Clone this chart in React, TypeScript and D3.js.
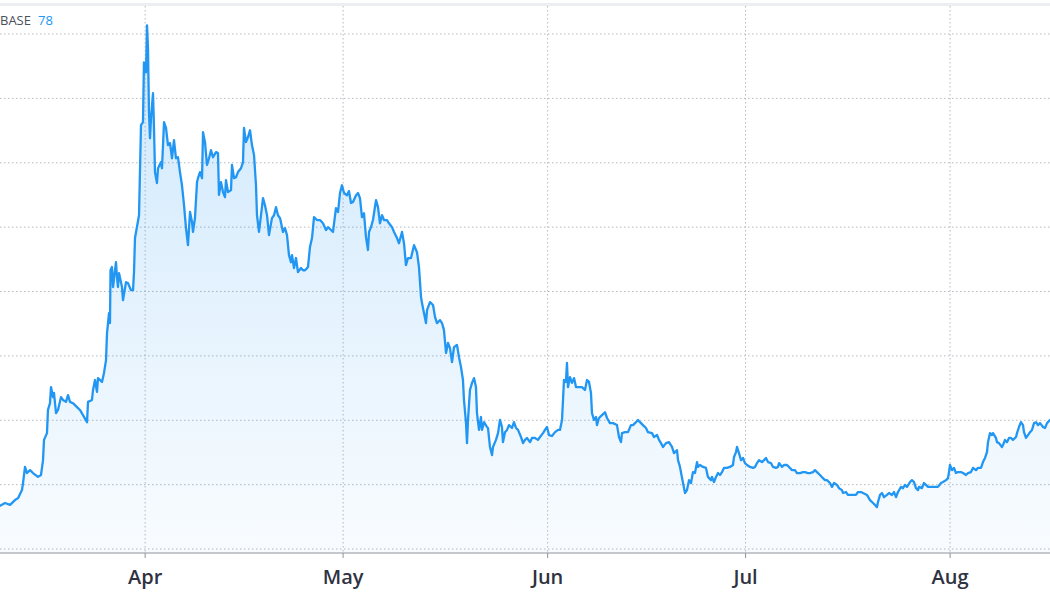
import React from "react";
import * as d3 from "d3";

// ---- data (day-of-year 2021, price) ----
const YEAR = 2021;
const series: [number, number][] = [
[69.00,53.4],[69.76,54.3],[70.52,53.7],[71.27,55.2],[71.73,55.8],[72.33,58.3],[72.49,60.5],[72.79,65.5],[73.09,63.6],[73.55,64.5],[74.00,63.6],[74.76,62.4],[75.21,63.0],[75.52,67.6],[75.67,73.9],[76.12,76.0],[76.27,83.2],[76.58,85.3],[76.73,90.3],[77.03,87.2],[77.18,88.5],[77.49,82.2],[77.79,83.2],[78.25,87.2],[78.55,86.3],[79.00,85.7],[79.31,87.8],[79.61,85.7],[80.06,85.3],[80.67,84.1],[81.12,83.2],[81.58,81.6],[82.19,79.4],[82.34,85.7],[82.94,86.3],[83.10,89.4],[83.40,92.5],[83.70,88.8],[83.85,93.1],[84.46,91.9],[84.76,94.7],[85.07,98.7],[85.22,107.1],[85.52,113.3],[85.67,110.2],[85.75,126.6],[85.97,127.6],[86.13,121.4],[86.58,129.1],[86.73,124.5],[86.88,121.4],[87.04,125.7],[87.49,121.4],[87.64,117.3],[88.10,122.9],[88.40,122.6],[88.85,120.4],[89.16,120.4],[89.31,126.0],[89.46,136.6],[90.07,143.7],[90.37,171.7],[90.67,172.6],[90.82,191.2],[91.13,188.1],[91.28,202.7],[91.43,195.6],[91.58,175.7],[91.73,167.6],[91.89,173.9],[92.19,181.6],[92.34,170.8],[92.49,157.1],[92.79,153.7],[92.95,158.3],[93.40,160.2],[93.55,158.3],[93.86,172.6],[94.16,170.8],[94.46,165.5],[94.77,166.1],[95.07,161.4],[95.37,167.0],[95.67,161.4],[95.98,161.7],[96.28,157.1],[96.58,153.0],[96.89,146.8],[97.19,139.7],[97.49,134.4],[97.80,144.7],[98.10,141.6],[98.25,138.5],[98.55,142.8],[98.86,154.0],[99.01,155.2],[99.31,157.1],[99.62,155.2],[99.77,169.5],[100.07,166.4],[100.37,159.3],[100.68,161.4],[100.98,163.9],[101.28,161.7],[101.74,163.3],[102.04,163.0],[102.19,150.0],[102.49,154.0],[102.80,150.9],[103.10,149.3],[103.25,154.6],[103.56,150.9],[104.01,151.5],[104.16,159.3],[104.47,155.2],[104.77,155.5],[105.07,157.1],[105.53,158.3],[105.83,160.2],[105.98,170.8],[106.28,166.4],[106.59,168.0],[106.89,170.1],[107.19,165.5],[107.50,162.4],[107.80,153.0],[107.95,143.7],[108.25,138.5],[108.56,143.7],[108.86,149.0],[109.16,146.8],[109.47,143.7],[109.77,137.5],[110.22,142.8],[110.53,143.7],[110.83,146.2],[111.13,143.7],[111.44,142.8],[111.89,138.5],[112.19,139.7],[112.50,137.5],[112.80,131.3],[113.10,129.1],[113.26,131.3],[113.56,127.3],[113.86,130.4],[114.16,126.0],[114.62,127.3],[114.92,126.6],[115.23,126.6],[115.68,127.6],[115.98,133.8],[116.29,136.6],[116.59,143.1],[117.04,142.2],[117.50,142.2],[117.95,141.2],[118.41,139.1],[118.71,140.0],[119.17,139.1],[119.47,138.5],[119.92,145.9],[120.23,144.7],[120.53,150.6],[120.83,153.0],[121.14,150.6],[121.59,149.9],[121.89,151.2],[122.20,147.5],[122.50,147.8],[122.96,149.9],[123.26,150.6],[123.56,149.0],[123.86,143.1],[124.17,144.3],[124.47,136.9],[124.77,132.9],[124.93,138.5],[125.23,140.0],[125.53,142.2],[125.99,148.4],[126.29,146.2],[126.59,141.2],[126.90,143.7],[127.20,142.2],[127.65,142.2],[127.96,141.2],[128.41,140.0],[128.72,138.5],[129.17,136.6],[129.47,135.0],[129.93,138.5],[130.23,135.0],[130.53,128.2],[130.84,130.4],[131.29,130.4],[131.75,134.4],[132.20,132.2],[132.50,127.6],[132.81,118.3],[132.96,116.4],[133.26,113.3],[133.56,110.2],[133.72,114.2],[134.17,116.7],[134.63,115.8],[134.93,112.1],[135.23,110.2],[135.69,111.1],[135.99,110.2],[136.29,108.0],[136.60,100.9],[136.90,104.0],[137.20,102.4],[137.51,98.1],[137.81,102.7],[138.26,103.4],[138.57,99.6],[138.87,96.5],[139.17,92.5],[139.32,86.3],[139.63,79.1],[139.78,72.9],[139.93,80.1],[140.23,89.4],[140.54,91.6],[140.84,93.1],[141.14,90.3],[141.29,82.2],[141.60,77.0],[141.90,81.0],[142.05,77.0],[142.36,79.4],[142.81,77.9],[142.96,77.6],[143.26,71.7],[143.57,69.2],[143.72,71.7],[144.17,73.9],[144.48,76.0],[144.78,80.1],[145.08,77.9],[145.23,73.2],[145.54,76.3],[145.84,77.0],[146.14,78.5],[146.60,77.6],[146.90,79.4],[147.21,77.6],[147.51,77.0],[147.96,74.8],[148.27,72.9],[148.57,73.9],[148.87,74.5],[149.33,73.2],[149.63,74.5],[150.08,74.5],[150.54,73.9],[150.84,74.8],[151.30,76.0],[151.60,77.0],[151.90,77.9],[152.21,75.4],[152.66,75.1],[153.12,76.3],[153.57,77.0],[153.87,77.0],[154.18,80.1],[154.33,86.3],[154.48,92.5],[154.78,91.9],[154.93,97.8],[155.09,90.3],[155.39,93.4],[155.69,91.6],[156.00,93.1],[156.30,90.3],[156.60,90.3],[157.21,90.3],[157.66,89.4],[157.97,92.5],[158.27,91.9],[158.57,88.5],[158.72,82.2],[159.03,80.1],[159.33,81.0],[159.48,78.5],[159.78,80.7],[160.24,81.6],[160.69,82.5],[161.00,80.7],[161.45,79.1],[161.91,79.1],[162.51,78.5],[162.82,74.8],[163.12,73.2],[163.27,76.0],[163.73,76.3],[164.18,76.3],[164.63,78.5],[164.94,78.5],[165.39,79.4],[165.70,80.1],[166.00,79.4],[166.45,78.5],[166.91,77.6],[167.21,76.3],[167.82,76.0],[168.12,74.8],[168.58,75.4],[168.88,73.9],[169.18,72.9],[169.48,71.7],[169.94,72.9],[170.39,73.2],[170.85,71.7],[171.15,69.8],[171.61,70.7],[171.76,67.6],[172.06,65.5],[172.37,62.1],[172.82,57.4],[173.12,58.3],[173.43,61.4],[173.73,60.5],[174.03,63.9],[174.33,63.6],[174.64,67.0],[174.79,65.5],[175.09,66.1],[175.55,65.5],[176.00,65.2],[176.30,62.4],[176.76,61.4],[176.91,62.4],[177.21,60.8],[177.52,62.4],[177.82,63.6],[178.12,63.0],[178.43,63.9],[178.73,65.2],[179.18,65.2],[179.64,65.5],[180.09,66.1],[180.25,68.6],[180.55,70.1],[180.70,71.7],[181.00,69.8],[181.31,67.6],[181.61,68.3],[181.91,66.7],[182.22,66.1],[182.67,65.5],[183.12,65.2],[183.43,65.5],[183.73,66.7],[184.03,67.6],[184.49,67.0],[184.79,67.6],[185.09,68.3],[185.40,67.0],[185.85,66.7],[186.16,65.5],[186.61,65.2],[186.91,65.5],[187.07,66.7],[187.52,65.5],[187.82,66.1],[188.28,66.1],[188.58,65.5],[189.04,64.5],[189.49,64.5],[189.79,63.6],[190.25,63.6],[190.70,63.9],[191.01,63.9],[191.46,63.6],[191.76,63.6],[192.22,63.9],[192.52,64.5],[192.82,63.9],[193.28,63.0],[193.73,62.0],[194.04,61.4],[194.34,61.4],[194.79,60.5],[195.10,59.3],[195.40,60.5],[195.86,59.9],[196.16,58.9],[196.61,58.3],[196.76,57.4],[197.22,57.7],[197.52,56.8],[197.98,56.8],[198.28,56.8],[198.73,56.8],[199.04,57.7],[199.49,57.7],[199.80,57.4],[200.40,56.8],[200.86,55.2],[201.31,54.3],[201.62,53.7],[201.92,53.0],[202.07,54.6],[202.38,56.8],[202.68,57.4],[202.98,56.1],[203.43,56.8],[203.74,57.4],[204.19,56.8],[204.49,57.7],[204.80,56.1],[205.10,57.7],[205.56,59.3],[205.86,58.9],[206.16,59.9],[206.47,59.3],[206.92,60.8],[207.22,61.4],[207.53,60.8],[207.83,58.9],[208.13,58.3],[208.28,59.3],[208.74,58.9],[209.04,60.5],[209.34,59.9],[209.65,59.3],[210.10,59.3],[210.41,59.3],[210.86,59.3],[211.16,59.3],[211.62,60.5],[211.92,60.8],[212.38,61.4],[212.68,62.0],[212.83,63.9],[212.98,66.1],[213.29,64.5],[213.59,65.2],[213.89,63.6],[214.19,63.9],[214.65,63.9],[214.95,63.6],[215.41,63.0],[215.71,63.6],[216.16,63.9],[216.47,65.2],[216.92,64.5],[217.23,65.2],[217.68,65.2],[217.98,67.0],[218.29,68.3],[218.59,70.1],[218.74,73.2],[219.04,76.0],[219.35,75.4],[219.50,76.0],[219.95,74.5],[220.11,73.2],[220.41,72.9],[220.86,71.7],[221.02,72.3],[221.32,73.9],[221.62,73.2],[221.93,74.5],[222.23,74.5],[222.53,73.9],[222.99,74.8],[223.14,76.0],[223.44,77.9],[223.74,79.4],[224.05,78.5],[224.20,76.3],[224.50,74.5],[224.81,75.4],[225.11,76.3],[225.41,77.0],[225.72,79.1],[226.02,79.4],[226.32,78.5],[226.63,79.1],[227.08,77.9],[227.38,77.6],[227.69,79.1],[228.14,80.1]
];
const yTicks = [40, 60, 80, 100, 120, 140, 160, 180, 200];
const symbolLabel = "BASE";
const lastLabel = "78";

// ---- layout ----
const W = 1050;
const H = 600;
const TOP = 6;
const GRID_BOTTOM = 549;
const GRID_TOP = 34;
const AXIS_Y = 553;

const LINE_COLOR = "#2196f3";
const GRID_COLOR = "#b4b8bf";
const TEXT_COLOR = "#2f3241";

function dayToDate(d: number): Date {
  return new Date(Date.UTC(YEAR, 0, 1) + (d - 1) * 86400000);
}

type Pt = { date: Date; value: number };

export default function App() {
  const data: Pt[] = series.map(([d, v]) => ({ date: dayToDate(d), value: v }));
  const x = d3
    .scaleUtc()
    .domain(d3.extent(data, (d) => d.date) as [Date, Date])
    .range([0, W]);
  const y = d3
    .scaleLinear()
    .domain([yTicks[0], yTicks[yTicks.length - 1]])
    .range([GRID_BOTTOM, GRID_TOP]);

  const line = d3
    .line<Pt>()
    .x((d) => x(d.date))
    .y((d) => y(d.value));
  const area = d3
    .area<Pt>()
    .x((d) => x(d.date))
    .y0(AXIS_Y)
    .y1((d) => y(d.value));

  const months = x.ticks(d3.utcMonth.every(1) as any);
  const fmt = d3.utcFormat("%b");
  const peakY = y(d3.max(data, (d) => d.value) as number);

  return (
    <svg
      width={W}
      height={H}
      style={{ position: "fixed", left: 0, top: 0, background: "#fff", display: "block" }}
    >
      <defs>
        <linearGradient id="areaGrad" gradientUnits="userSpaceOnUse" x1="0" y1={peakY} x2="0" y2={AXIS_Y}>
          <stop offset="0%" stopColor={LINE_COLOR} stopOpacity={0.22} />
          <stop offset="100%" stopColor={LINE_COLOR} stopOpacity={0.03} />
        </linearGradient>
      </defs>

      {/* top border */}
      <rect x={0} y={3} width={W} height={3} fill="#eceef2" />

      {/* horizontal grid */}
      {yTicks.map((t) => (
        <line
          key={"h" + t}
          x1={0}
          x2={W}
          y1={y(t)}
          y2={y(t)}
          stroke={GRID_COLOR}
          strokeWidth={1}
          strokeDasharray="1.5 2.5"
        />
      ))}

      {/* vertical grid */}
      {months.map((m) => (
        <line
          key={"v" + m.getTime()}
          x1={x(m)}
          x2={x(m)}
          y1={TOP}
          y2={AXIS_Y}
          stroke={GRID_COLOR}
          strokeWidth={1}
          strokeDasharray="1.5 2.5"
        />
      ))}

      {/* area + line */}
      <path d={area(data) || ""} fill="url(#areaGrad)" />
      <path
        d={line(data) || ""}
        fill="none"
        stroke={LINE_COLOR}
        strokeWidth={2.3}
        strokeLinejoin="round"
        strokeLinecap="round"
      />

      {/* x axis */}
      <line x1={0} x2={W} y1={AXIS_Y} y2={AXIS_Y} stroke="#8f929b" strokeWidth={1} />
      {months.map((m) => (
        <g key={"t" + m.getTime()}>
          <line x1={x(m)} x2={x(m)} y1={AXIS_Y} y2={AXIS_Y + 5} stroke="#8f929b" strokeWidth={1} />
          <text
            x={x(m)}
            y={584}
            textAnchor="middle"
            fontFamily="'Open Sans', 'Noto Sans', sans-serif"
            fontWeight={600}
            fontSize={20}
            fill={TEXT_COLOR}
          >
            {fmt(m)}
          </text>
        </g>
      ))}

      {/* legend */}
      <text x={0} y={25} fontFamily="'Open Sans', 'Noto Sans', sans-serif" fontSize={13}>
        <tspan fill="#4c505b">{symbolLabel}</tspan>
        <tspan dx={7} fill={LINE_COLOR}>{lastLabel}</tspan>
      </text>
    </svg>
  );
}
